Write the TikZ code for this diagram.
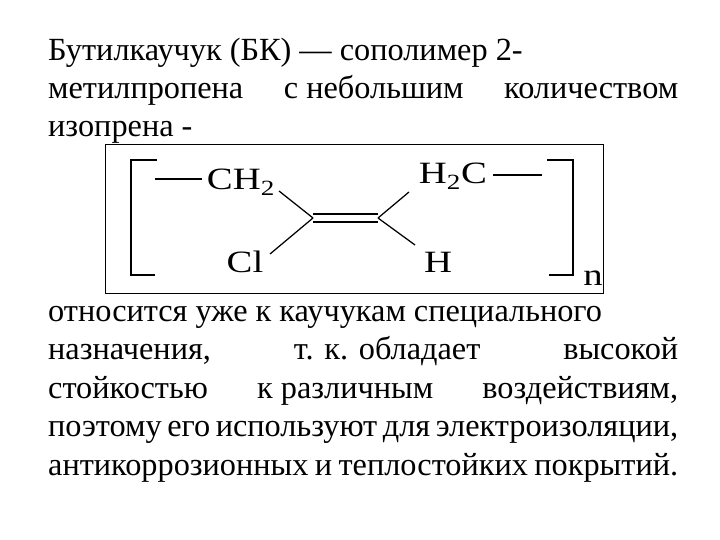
\documentclass[tikz,border=0pt]{standalone}
\usepackage{fontspec}
\setmainfont{Liberation Serif}
\tikzset{
  bodytext/.style={anchor=base west,inner sep=0pt,font=\fontsize{32.3}{33}\selectfont},
  atom/.style={anchor=base,inner sep=0pt,xscale=1.25,font=\fontsize{31}{31}\selectfont},
  bond/.style={line width=1.25pt}
}
\newcommand{\wideline}[1]{\hbox to 630pt{#1}}
\begin{document}
\begin{tikzpicture}[x=1pt,y=-1pt]
  \useasboundingbox (0,0) rectangle (720,540);
  \fill[white] (0,0) rectangle (720,540);
  % text above the formula
  \node[bodytext] (top1) at (48,61) {Бутилкаучук (БК) — сополимер 2-};
  \node[bodytext] (top2) at (48,99) {\wideline{метилпропена\hfill с небольшим\hfill количеством}};
  \node[bodytext] (top3) at (48,137) {изопрена -};
  % frame of the formula
  \node[draw,line width=1pt,inner sep=0pt,minimum width=498pt,minimum height=148pt] (frame) at (354,219) {};
  % brackets
  \coordinate (lbt) at (157,160);
  \coordinate (lbb) at (155,275);
  \coordinate (rbt) at (547,160);
  \coordinate (rbb) at (549,275);
  \draw[bond] (lbt) -- (131,160) -- (131,275) -- (lbb);
  \draw[bond] (rbt) -- (573,160) -- (573,275) -- (rbb);
  % atoms
  \node[atom] (ch2) at (241,190) {CH\textsubscript{2}};
  \node[atom] (h2c) at (453,184) {H\textsubscript{2}C};
  \node[atom] (cl) at (245,272) {Cl};
  \node[atom] (h) at (438,272) {H};
  \node[atom] (n) at (593,285) {n};
  \coordinate (cleft) at (313,218);
  \coordinate (cright) at (378,218);
  % routine for bonds
  \coordinate (endl) at (155,179);
  \coordinate (endr) at (542,175);
  \draw[bond] (endl) -- ([xshift=-39pt]ch2.base |- endl);
  \draw[bond] ([xshift=40pt]h2c.base |- endr) -- (endr);
  \draw[bond] ([shift={(38pt,-1pt)}]ch2.base) -- (cleft);
  \draw[bond] ([shift={(25pt,18pt)}]cl.base) -- (cleft);
  \draw[bond] ([shift={(-44pt,-8pt)}]h2c.base) -- (cright);
  \draw[bond] ([shift={(-23pt,27pt)}]h.base) -- (cright);
  \draw[bond] ([yshift=4pt]cleft) -- ([yshift=4pt]cright);
  \draw[bond] ([yshift=-4pt]cleft) -- ([yshift=-4pt]cright);
  % text below the formula
  \node[bodytext] (low1) at (48,321) {относится уже к каучукам специального};
  \node[bodytext] (low2) at (48,359) {\wideline{назначения,\hfill т. к. обладает\hfill высокой}};
  \node[bodytext] (low3) at (48,398) {\wideline{стойкостью\hfill к различным\hfill воздействиям,}};
  \node[bodytext] (low4) at (48,436) {\wideline{поэтому его используют для электроизоляции,}};
  \node[bodytext] (low5) at (48,475) {\wideline{антикоррозионных и теплостойких покрытий.}};
\end{tikzpicture}
\end{document}
